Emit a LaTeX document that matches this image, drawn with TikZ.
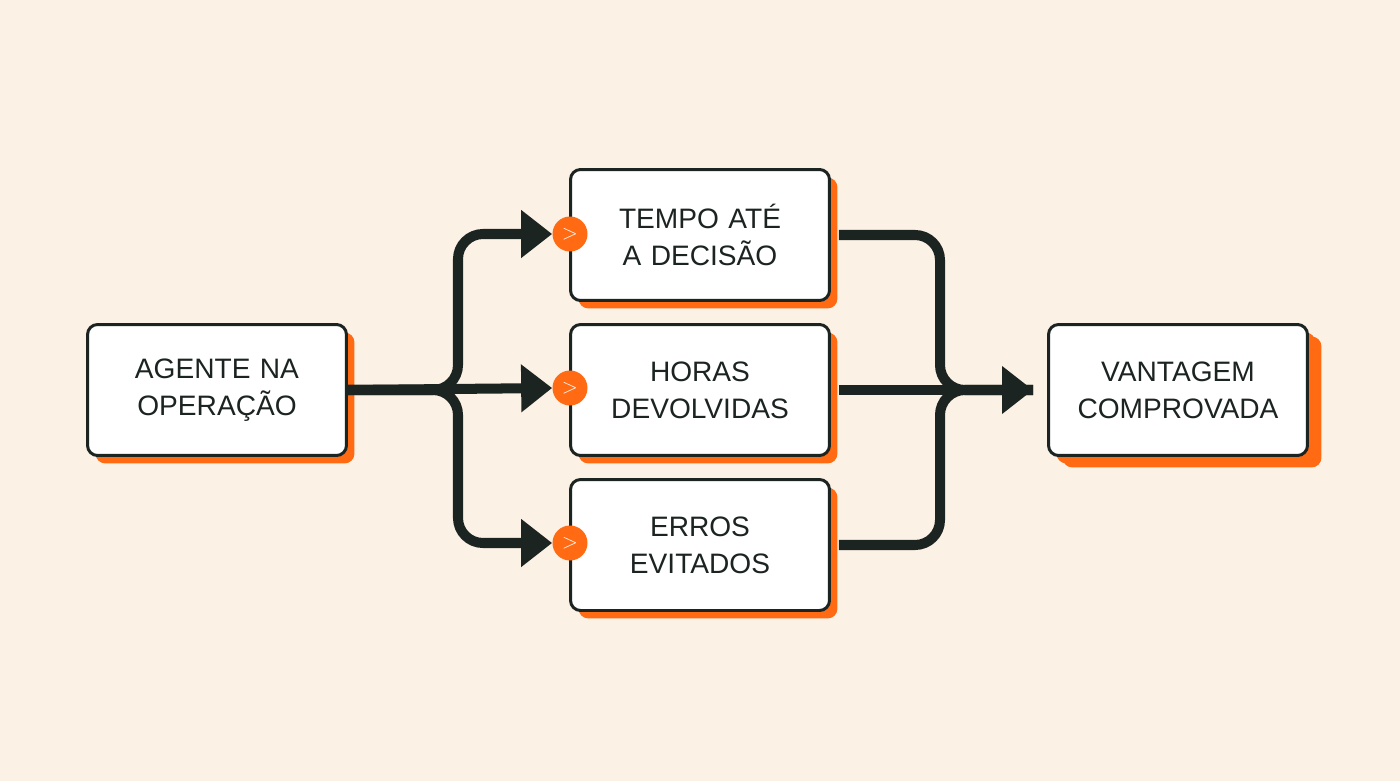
\documentclass[tikz,border=0pt]{standalone}
\usepackage{fontspec}
\setmainfont{Liberation Sans}
\usetikzlibrary{positioning, arrows.meta, shadows}
\definecolor{paper}{HTML}{FBF1E4}
\definecolor{ink}{HTML}{1C2422}
\definecolor{accent}{HTML}{FF6A13}

\begin{document}
\begin{tikzpicture}[
        x=0.02cm, y=-0.02cm,
        box/.style={rectangle, draw=ink, line width=1.7pt, fill=white, rounded corners=0.2cm,
            minimum width=5.18cm, minimum height=2.62cm, text width=4.6cm, align=center,
            font=\fontsize{16}{21}\selectfont, text=ink,
            drop shadow={shadow xshift=0.16cm, shadow yshift=-0.16cm, fill=accent, opacity=1}},
        bigbox/.style={box, drop shadow={shadow xshift=0.28cm, shadow yshift=-0.24cm, fill=accent, opacity=1}},
        badge/.style={circle, fill=accent, minimum size=0.7cm, inner sep=0pt, text=white,
            font=\bfseries\fontsize{13}{13}\selectfont},
        flow/.style={draw=ink, line width=5.7pt, rounded corners=0.5cm},
        arrow/.style={flow, -{Triangle[length=0.62cm, width=0.92cm]}}
    ]
    \fill[paper] (0,0) rectangle (1400,781);

    % Nodes
    \node (agente) [box] at (217,390) {AGENTE NA\\OPERAÇÃO};
    \node (tempo) [box] at (700,235) {TEMPO ATÉ\\A DECISÃO};
    \node (horas) [box] at (700,390) {HORAS\\DEVOLVIDAS};
    \node (erros) [box] at (700,545) {ERROS\\EVITADOS};
    \node (vantagem) [bigbox] at (1178,390) {VANTAGEM\\COMPROVADA};

    \node (b1) [badge] at (570,234) {$>$};
    \node (b2) [badge] at (570,388) {$>$};
    \node (b3) [badge] at (570,543) {$>$};

    \coordinate (join) at (1033,390);

    % Arrows
    \draw [arrow] (agente.east) -| (458,234) -- (b1.west);
    \draw [arrow] (agente.east) -- (b2.west);
    \draw [arrow] (agente.east) -| (458,543) -- (b3.west);
    \draw [flow] (tempo.east) ++(8,0) -| (940,390) -- (join);
    \draw [flow] (erros.east) ++(8,0) -| (940,390) -- (join);
    \draw [arrow] (horas.east) ++(8,0) -- (join);
\end{tikzpicture}
\end{document}
